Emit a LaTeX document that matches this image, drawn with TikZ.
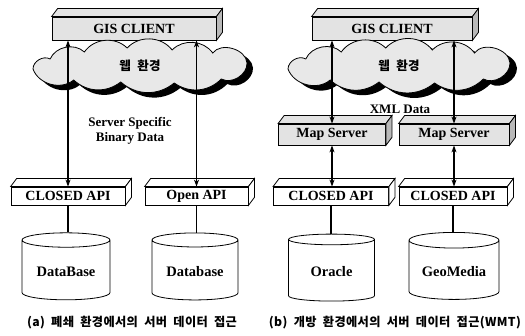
\documentclass[tikz,border=0pt]{standalone}
\usepackage{fontspec}
\setmainfont{Liberation Serif}
\newfontfamily\kr{Noto Sans CJK KR}[LetterSpace=3, WordSpace=2]
\usetikzlibrary{arrows.meta, shapes.geometric, calc}
\tikzset{
  slab/.style={draw, thick, rectangle, inner sep=0pt, font=\fontsize{14}{14}\selectfont\bfseries},
  grayslab/.style={slab, fill=gray!22},
  whiteslab/.style={slab, fill=white},
  db/.style={draw, thick, cylinder, shape border rotate=90, aspect=0.22, fill=white, font=\fontsize{14.5}{14.5}\selectfont\bfseries},
  webcloud/.style={inner sep=0pt, font=\kr\fontsize{12.5}{12.5}\selectfont\bfseries},
  dbl/.style={line width=1.4pt, {Stealth[length=7pt,width=5pt]}-{Stealth[length=7pt,width=5pt]}},
  link/.style={line width=1.4pt},
  note/.style={font=\fontsize{13}{13}\selectfont\bfseries},
  caption/.style={font=\kr\fontsize{12.2}{12.2}\selectfont\bfseries},
}
\newcommand{\depth}[3]{%
  \filldraw[thick, fill=#2] (#1.north west) -- ++(6,8) -- ($(#1.north east)+(6,8)$) -- (#1.north east) -- cycle;
  \filldraw[thick, fill=#3] (#1.north east) -- ++(6,8) -- ($(#1.south east)+(6,8)$) -- (#1.south east) -- cycle;
}
% cloud outline, half width #1
\newcommand{\puffpath}[1]{%
  ({-#1},-3) to[bend left=60] ({-0.84*#1},7) to[bend left=55] ({-0.52*#1},14)
  to[bend left=50] ({-0.12*#1},18) to[bend left=50] ({0.3*#1},16)
  to[bend left=50] ({0.68*#1},13) to[bend left=70] ({#1},3)
  to[bend left=60] ({0.76*#1},-13) to[bend left=40] ({0.32*#1},-17)
  to[bend left=40] ({-0.18*#1},-16) to[bend left=40] ({-0.62*#1},-14)
  to[bend left=55] cycle
}
\begin{document}
\begin{tikzpicture}[x=1pt, y=1pt]
\useasboundingbox (0,0) rectangle (525,-336);
\node[grayslab, minimum width=164pt, minimum height=23pt] at (134,-28.5) (gisA) {GIS CLIENT};
\depth{gisA}{gray!22}{gray!55}
\coordinate (cloudA) at (140,-66);
\fill[black, shift={(146,-71)}] \puffpath{107};
\filldraw[thick, fill=gray!18, shift={(cloudA)}] \puffpath{107};
\node[webcloud] at (cloudA) (webA) {웹 환경};
\node[whiteslab, minimum width=114pt, minimum height=18pt] at (68,-196) (capiA) {CLOSED API};
\depth{capiA}{white}{white}
\node[whiteslab, minimum width=103pt, minimum height=18pt] at (196.5,-196) (openA) {Open API};
\depth{openA}{white}{white}
\draw[dbl] (gisA.south -| capiA) -- (capiA.north);
\draw[dbl] (gisA.south -| openA) -- (openA.north);
\node[note] at (130,-123) (ssd) {Server Specific};
\node[note] at (130,-138) (bin) {Binary Data};
\node[db, minimum width=88pt, minimum height=67pt] at (66,-271.5) (dbA) {DataBase};
\node[db, minimum width=86pt, minimum height=67pt] at (195,-271.5) (dbB) {Database};
\draw[link] (capiA.south) -- (capiA.south |- dbA.north);
\draw[link] (openA.south) -- (openA.south |- dbB.north);
\node[caption] at (132,-323) (capA) {(a) 폐쇄 환경에서의 서버 데이터 접근};
\node[grayslab, minimum width=160pt, minimum height=23pt] at (392,-28.5) (gisB) {GIS CLIENT};
\depth{gisB}{gray!22}{gray!55}
\coordinate (cloudB) at (399,-66);
\fill[black, shift={(406,-71)}] \puffpath{111};
\filldraw[thick, fill=gray!18, shift={(cloudB)}] \puffpath{111};
\node[webcloud] at (cloudB) (webB) {웹 환경};
\node[grayslab, minimum width=107pt, minimum height=21pt] at (332,-134.5) (mapA) {Map Server};
\depth{mapA}{gray!22}{gray!55}
\node[grayslab, minimum width=110pt, minimum height=21pt] at (454,-134.5) (mapB) {Map Server};
\depth{mapB}{gray!22}{gray!55}
\node[note] at (400,-109) (xml) {XML Data};
\draw[dbl] (gisB.south -| mapA) -- (mapA.north);
\draw[dbl] (gisB.south -| mapB) -- (mapB.north);
\node[whiteslab, minimum width=115pt, minimum height=18pt] at (331,-196) (capiB) {CLOSED API};
\depth{capiB}{white}{white}
\node[whiteslab, minimum width=108pt, minimum height=18pt] at (453,-196) (capiC) {CLOSED API};
\depth{capiC}{white}{white}
\draw[dbl] (mapA.south) -- (mapA.south |- capiB.north);
\draw[dbl] (mapB.south) -- (mapB.south |- capiC.north);
\node[db, minimum width=86pt, minimum height=67pt] at (331.5,-271.5) (dbC) {Oracle};
\node[db, minimum width=90pt, minimum height=67pt] at (454,-271.5) (dbD) {GeoMedia};
\draw[link] (capiB.south) -- (capiB.south |- dbC.north);
\draw[link] (capiC.south) -- (capiC.south |- dbD.north);
\node[caption] at (395,-323) (capB) {(b) 개방 환경에서의 서버 데이터 접근(WMT)};
\end{tikzpicture}
\end{document}
